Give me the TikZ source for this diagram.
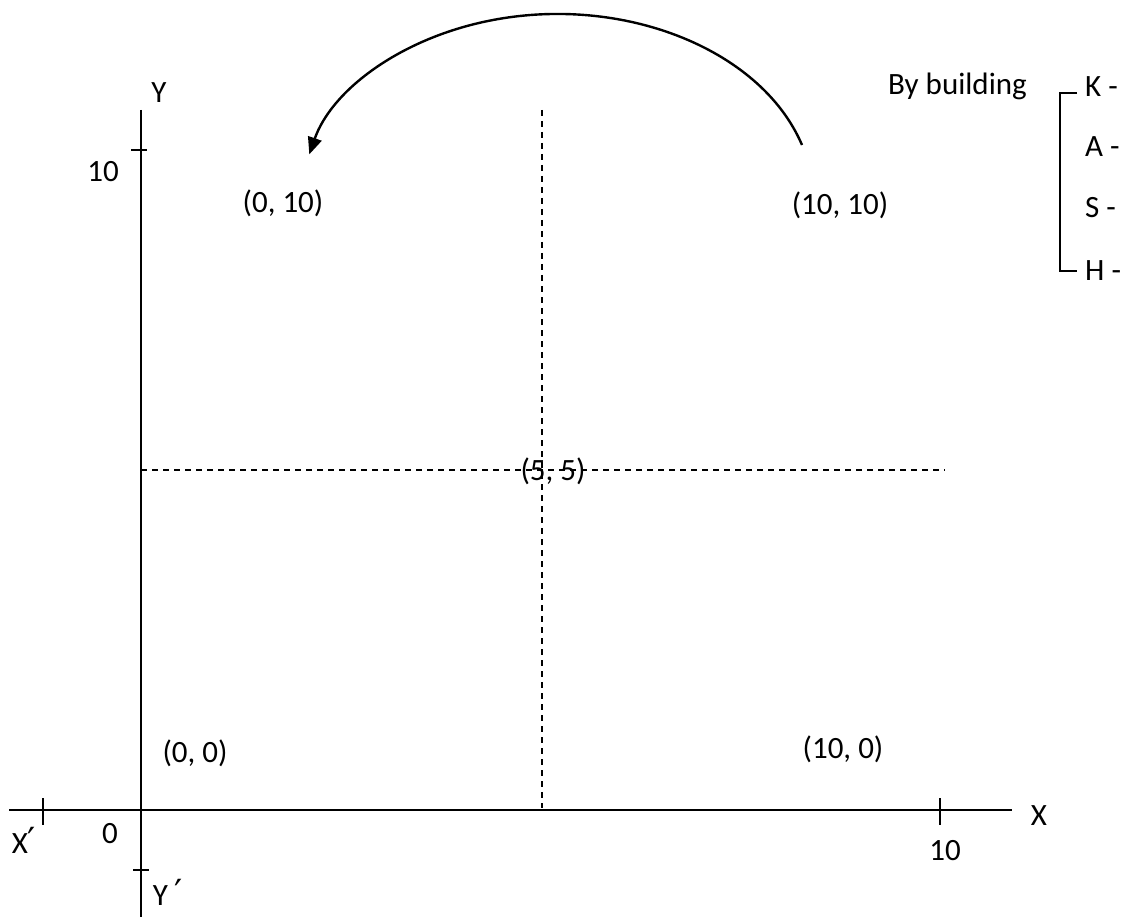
\documentclass[tikz,border=0pt]{standalone}
\usepackage{fontspec}
\setmainfont{Carlito}
\newfontfamily\primefont{DejaVu Sans}
\usetikzlibrary{arrows.meta}
\begin{document}
\begin{tikzpicture}[x=1pt,y=-1pt,
  axisline/.style={line width=2.4pt},
  tickline/.style={line width=2.4pt},
  guide/.style={line width=1.6pt,dash pattern=on 6pt off 5pt},
  arcline/.style={line width=2.4pt,-{Triangle[length=17pt,width=14pt]}},
  lbl/.style={inner sep=0pt,anchor=base,font=\fontsize{31}{37}\selectfont},
  klbl/.style={inner sep=0pt,anchor=base west,font=\fontsize{31}{37}\selectfont}]
\useasboundingbox (0,0) rectangle (1129,917);
% axes
\coordinate (ytop) at (141,110);
\coordinate (ybot) at (141,917);
\coordinate (xleft) at (9,810);
\coordinate (xright) at (1012,810);
\draw[axisline] (ytop) -- (ybot);
\draw[axisline] (xleft) -- (xright);
% ticks
\coordinate (t1a) at (131,150); \coordinate (t1b) at (147,150);
\coordinate (t2a) at (133,870); \coordinate (t2b) at (149,870);
\coordinate (t3a) at (43,798);  \coordinate (t3b) at (43,825);
\coordinate (t4a) at (940,798); \coordinate (t4b) at (940,825);
\draw[tickline] (t1a) -- (t1b);
\draw[tickline] (t2a) -- (t2b);
\draw[tickline] (t3a) -- (t3b);
\draw[tickline] (t4a) -- (t4b);
% dashed guides
\coordinate (vtop) at (542,110);
\coordinate (vbot) at (542,808);
\coordinate (hl) at (141,470);
\coordinate (hr) at (945,470);
\draw[guide] (vtop) -- (vbot);
\draw[guide] (hl) -- (hr);
% labels
\node[lbl] (Ylab) at (159,103) {Y};
\node[lbl] (ten1) at (103,182) {10};
\node[lbl] (p010) at (283,213) {(0, 10)};
\node[lbl] (p1010) at (840,215) {(10, 10)};
\node[lbl] (p55) at (553,480) {(5, 5)};
\node[lbl] (p00) at (195,762) {(0, 0)};
\node[lbl] (p100) at (843,758) {(10, 0)};
\node[lbl] (Xlab) at (1039,825) {X};
\node[lbl] (ten2) at (945,860) {10};
\node[lbl] (Xp) at (24,853) {X{\primefont\fontsize{36}{40}\selectfont ′}};
\node[lbl] (zero) at (110,843) {0};
\node[lbl] (Yp) at (168,905) {Y {\primefont\fontsize{36}{40}\selectfont ′}};
% curved arrow
\coordinate (arcstart) at (802,145);
\draw[arcline] (arcstart) arc[start angle=-17.2, end angle=-165.8, x radius=256, y radius=186];
% bracket legend
\node[lbl,anchor=base east] (by) at (1027,95) {By building};
\coordinate (bt1) at (1077,93);
\coordinate (bt2) at (1060,93);
\coordinate (bb2) at (1060,271);
\coordinate (bb1) at (1077,271);
\draw[line width=2.2pt] (bt1) -- (bt2) -- (bb2) -- (bb1);
\node[klbl] (K) at (1085,97) {K -};
\node[klbl] (A) at (1085,157) {A -};
\node[klbl] (S) at (1085,218) {S -};
\node[klbl] (H) at (1085,280) {H -};
\end{tikzpicture}
\end{document}
